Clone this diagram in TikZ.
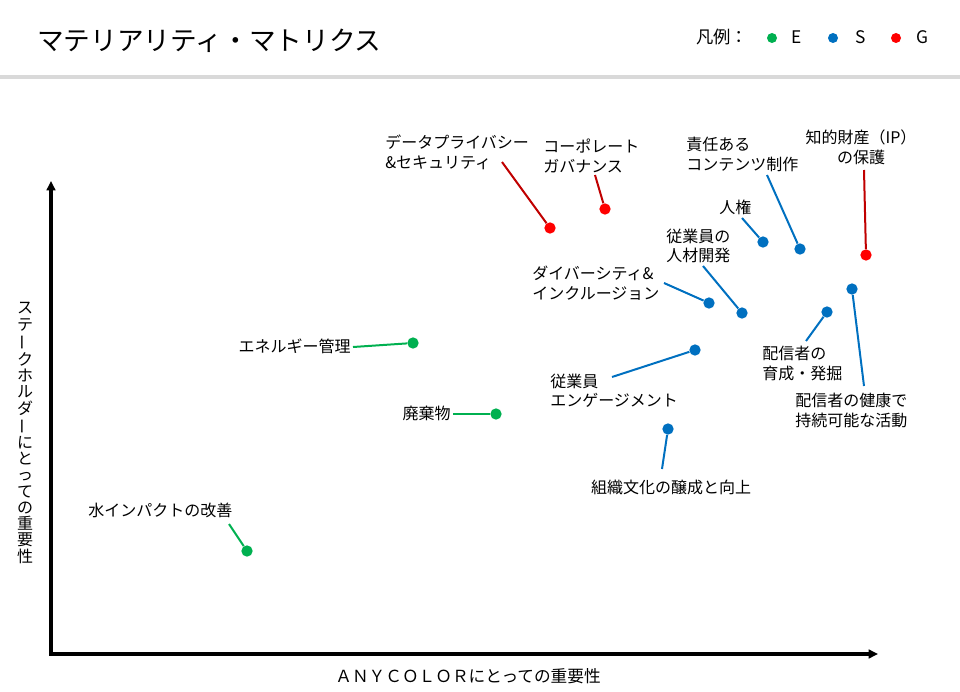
\documentclass[tikz,border=0pt]{standalone}
\usepackage{fontspec}
\usepackage{graphicx}
\setmainfont{Noto Sans CJK JP}
\usetikzlibrary{arrows.meta}
\definecolor{colE}{HTML}{00B050}
\definecolor{colS}{HTML}{0070C0}
\definecolor{colG}{HTML}{FF0000}
\definecolor{colGline}{HTML}{C00000}
\definecolor{ruleGray}{HTML}{D9D9D9}
\newcommand{\tatebo}{\rotatebox[origin=c]{90}{ー}}

\begin{document}
\begin{tikzpicture}[x=0.75pt, y=-0.75pt,
    lbl/.style={inner sep=0pt, align=left, font=\fontsize{12}{14.6}\selectfont},
    dot/.style={circle, fill=#1, inner sep=0pt, minimum size=8.5pt},
    keydot/.style={circle, fill=#1, inner sep=0pt, minimum size=7.5pt},
    link/.style={draw=#1, line width=1.5pt},
    axis/.style={line width=2.4pt, {Triangle[length=7pt,width=6.5pt]}-{Triangle[length=7pt,width=6.5pt]}}]
    \useasboundingbox (0,0) rectangle (960,692);

    % Header
    \node[anchor=west, inner sep=0pt, font=\fontsize{20}{24}\selectfont] (title) at (37,41) {マテリアリティ・マトリクス};
    \fill[ruleGray] (0,75) rectangle (960,79);
    \node[lbl, anchor=west, font=\fontsize{13}{15}\selectfont] (legend) at (696,37) {凡例：};
    \node[keydot=colE] (keyE) at (772,38) {};
    \node[lbl, anchor=west, font=\fontsize{13}{15}\selectfont] (keyEtxt) at (791,37) {E};
    \node[keydot=colS] (keyS) at (833,38) {};
    \node[lbl, anchor=west, font=\fontsize{13}{15}\selectfont] (keyStxt) at (855,37) {S};
    \node[keydot=colG] (keyG) at (896,38) {};
    \node[lbl, anchor=west, font=\fontsize{13}{15}\selectfont] (keyGtxt) at (916,37) {G};

    % Axes
    \coordinate (ytop) at (51,181);
    \coordinate (xend) at (878,654);
    \draw[axis] (ytop) |- (xend);
    \node[lbl, align=center, font=\fontsize{12}{12.2}\selectfont] (ytitle) at (25,433)
        {ス\\テ\\\tatebo\\ク\\ホ\\ル\\ダ\\\tatebo\\に\\と\\っ\\て\\の\\重\\要\\性};
    \node[lbl, font=\fontsize{12.5}{15}\selectfont] (xtitle) at (468,676) {ＡＮＹＣＯＬＯＲにとっての重要性};

    % Nodes: E
    \node[dot=colE] (water) at (247,551) {};
    \node[dot=colE] (energy) at (413,343) {};
    \node[dot=colE] (waste) at (496,414) {};
    \node[lbl, anchor=west] (waterL) at (88,510) {水インパクトの改善};
    \node[lbl, anchor=east] (energyL) at (351,346) {エネルギー管理};
    \node[lbl, anchor=east] (wasteL) at (451,413) {廃棄物};

    % Nodes: G
    \node[dot=colG] (privacy) at (550,228) {};
    \node[dot=colG] (gov) at (605,209) {};
    \node[dot=colG] (ip) at (866,255) {};
    \node[lbl, anchor=west] (privacyL) at (385,152.5) {データプライバシー\\\&セキュリティ};
    \node[lbl, anchor=west] (govL) at (543,156) {コーポレート\\ガバナンス};
    \node[lbl, align=center] (ipL) at (861,147.5) {知的財産（IP）\\の保護};

    % Nodes: S
    \node[dot=colS] (content) at (800,249) {};
    \node[dot=colS] (rights) at (763,242) {};
    \node[dot=colS] (develop) at (742,313) {};
    \node[dot=colS] (diversity) at (709,303) {};
    \node[dot=colS] (nurture) at (827,312) {};
    \node[dot=colS] (health) at (852,289) {};
    \node[dot=colS] (engage) at (695,350) {};
    \node[dot=colS] (culture) at (668,429) {};
    \node[lbl, anchor=west] (contentL) at (686,154.5) {責任ある\\コンテンツ制作};
    \node[lbl, anchor=west] (rightsL) at (719,207) {人権};
    \node[lbl, anchor=west] (developL) at (666,246) {従業員の\\人材開発};
    \node[lbl, anchor=west] (diversityL) at (532,283) {ダイバーシティ\&\\インクルージョン};
    \node[lbl, anchor=west] (nurtureL) at (762,363.5) {配信者の\\育成・発掘};
    \node[lbl, anchor=west] (healthL) at (795,410.5) {配信者の健康で\\持続可能な活動};
    \node[lbl, anchor=west] (engageL) at (550,390.5) {従業員\\エンゲージメント};
    \node[lbl] (cultureL) at (671,487) {組織文化の醸成と向上};

    % Leader ends
    \coordinate (waterC) at (229,524);
    \coordinate (energyC) at (353,347);
    \coordinate (wasteC) at (453,414);
    \coordinate (privacyC) at (502,162);
    \coordinate (govC) at (595,175);
    \coordinate (ipC) at (864,170);
    \coordinate (contentC) at (767,175);
    \coordinate (rightsC) at (742,218);
    \coordinate (developC) at (703,266);
    \coordinate (diversityC) at (664,283);
    \coordinate (nurtureC) at (806,341);
    \coordinate (healthC) at (864,386);
    \coordinate (engageC) at (612,377);
    \coordinate (cultureC) at (662,469);

    % Leaders
    \foreach \p in {water,energy,waste}
        \draw[link=colE] (\p C) -- (\p);
    \foreach \p in {privacy,gov,ip}
        \draw[link=colGline] (\p C) -- (\p);
    \foreach \p in {content,rights,develop,diversity,nurture,health,engage,culture}
        \draw[link=colS] (\p C) -- (\p);

\end{tikzpicture}
\end{document}
